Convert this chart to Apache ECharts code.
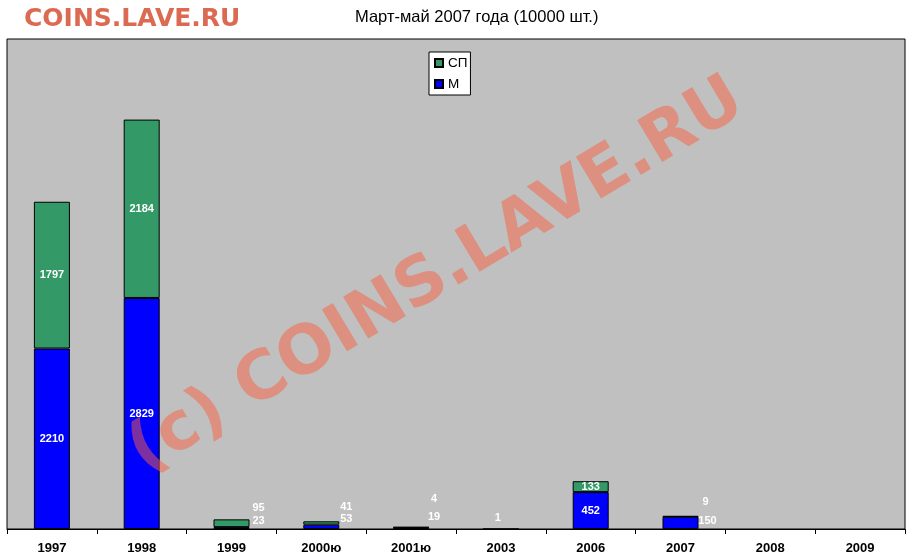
<!DOCTYPE html>
<html>
<head>
<meta charset="utf-8">
<script src="https://cdn.jsdelivr.net/npm/echarts@6/dist/echarts.min.js"></script>
<style>
html,body{margin:0;padding:0;background:#fff;}
#chart{width:915px;height:559px;}
</style>
</head>
<body>
<div id="chart"></div>
<script>
// ---- data ----
const categories = ['1997', '1998', '1999', '2000ю', '2001ю', '2003', '2006', '2007', '2008', '2009'];
const valuesM = [2210, 2829, 23, 53, 19, 1, 452, 150, null, null];
const valuesSP = [1797, 2184, 95, 41, 4, null, 133, 9, null, null];
const seriesNames = ['М', 'СП'];
const titleText = 'Март-май 2007 года (10000 шт.)';
const siteText = 'COINS.LAVE.RU';
const watermarkText = '(c) COINS.LAVE.RU';

// ---- label placement for tiny segments (style only) ----
const labelOffsetsM = {2: [27, -7], 3: [25, -8], 4: [23, -11.5], 5: [-3, -11], 7: [27, -2]};
const labelOffsetsSP = {2: [27, -15], 3: [25, -16], 4: [23, -28], 7: [25, -14]};

function buildData(values, offsets) {
  return values.map((v, i) => {
    if (offsets[i]) {
      return {value: v, label: {position: 'inside', offset: offsets[i]}};
    }
    return v;
  });
}

const chart = echarts.init(document.getElementById('chart'), null, {renderer: 'canvas'});
const labelStyle = {
  show: true, position: 'inside', color: '#fff', fontWeight: 'bold',
  fontSize: 11, fontFamily: 'Liberation Sans, Arial, sans-serif'
};

chart.setOption({
  animation: false,
  backgroundColor: '#ffffff',
  title: {
    text: titleText,
    left: 355, top: 9, padding: 0,
    textStyle: {fontSize: 16.5, fontWeight: 'normal', color: '#000', fontFamily: 'Liberation Sans, Arial, sans-serif'}
  },
  legend: {
    data: ['СП', 'М'],
    orient: 'vertical',
    left: 429, top: 52,
    padding: [4, 3, 4, 5],
    itemWidth: 8, itemHeight: 8,
    itemGap: 7,
    itemTextGap: 4,
    backgroundColor: '#fff',
    borderColor: '#000', borderWidth: 1,
    icon: 'rect',
    textStyle: {fontSize: 13.5, color: '#000', lineHeight: 14, fontFamily: 'Liberation Sans, Arial, sans-serif'}
  },
  grid: {
    left: 7, right: 10, top: 39, bottom: 30,
    show: true, backgroundColor: '#c0c0c0', borderColor: '#000', borderWidth: 1
  },
  xAxis: {
    type: 'category',
    data: categories,
    axisLine: {show: true, lineStyle: {color: '#000', width: 1}},
    axisTick: {show: true, length: 5, lineStyle: {color: '#000'}},
    axisLabel: {color: '#000', fontWeight: 'bold', fontSize: 13, margin: 13, fontFamily: 'Liberation Sans, Arial, sans-serif', interval: 0}
  },
  yAxis: {
    type: 'value', min: 0, max: 6000, show: false,
    splitLine: {show: false}
  },
  series: [
    {
      name: seriesNames[0], type: 'bar', stack: 'total', barWidth: 36,
      data: buildData(valuesM, labelOffsetsM),
      itemStyle: {color: '#0000ff', borderColor: '#000', borderWidth: 1},
      label: labelStyle
    },
    {
      name: seriesNames[1], type: 'bar', stack: 'total', barWidth: 36,
      data: buildData(valuesSP, labelOffsetsSP),
      itemStyle: {color: '#339966', borderColor: '#000', borderWidth: 1},
      label: labelStyle
    }
  ],
  graphic: [
    {
      type: 'text', left: 24, top: 7, z: 50,
      style: {text: siteText, fill: '#dc6a52', font: 'bold 25px "DejaVu Sans", Verdana, sans-serif'}
    },
    {
      type: 'text', x: 437, y: 277, rotation: 31 * Math.PI / 180, z: 100,
      style: {
        text: watermarkText, fill: 'rgba(250,96,64,0.5)',
        font: 'bold 67px "DejaVu Sans", Verdana, sans-serif',
        textAlign: 'center', textVerticalAlign: 'middle'
      }
    }
  ]
});
</script>
</body>
</html>
